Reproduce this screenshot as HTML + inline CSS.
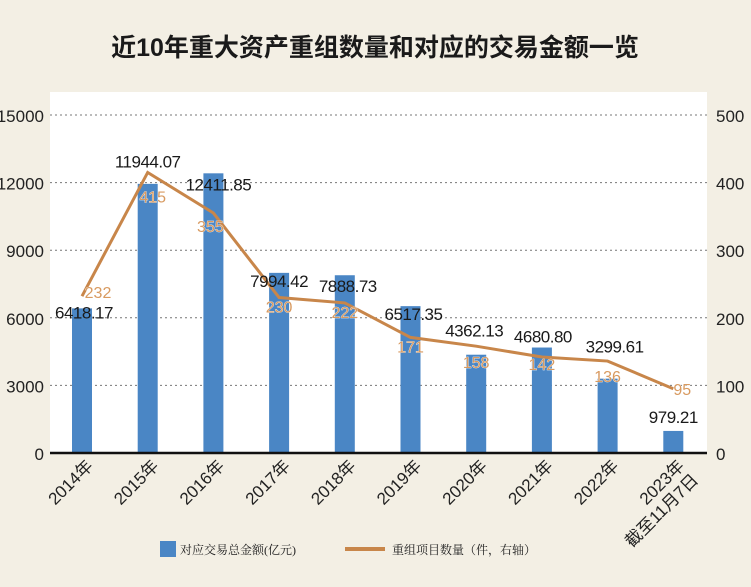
<!DOCTYPE html>
<html><head><meta charset="utf-8"><style>
body{margin:0;width:751px;height:587px;background:#f3efe4;overflow:hidden;font-family:"Liberation Sans","Noto Sans CJK SC",sans-serif}
svg{display:block}
</style></head><body>
<svg id="c" width="751" height="587">
<rect x="0" y="0" width="751" height="587" fill="#f3efe4"/>
<rect x="50" y="92" width="657" height="361" fill="#ffffff"/>
<text x="375" y="56" text-anchor="middle" font-size="25" font-weight="bold" fill="#1a1a1a" font-family="'Liberation Sans','Noto Sans CJK SC',sans-serif">近10年重大资产重组数量和对应的交易金额一览</text>
<g id="grid"></g><g id="bars"></g><g id="line"></g><g id="labels"></g><g id="axes"></g>
<g>
<rect x="160" y="541" width="16" height="16" fill="#4a86c5"/>
<text x="180" y="554" font-size="12" fill="#222" font-family="'Liberation Serif','Noto Serif CJK SC',serif">对应交易总金额(亿元)</text>
<line x1="345" y1="549" x2="385" y2="549" stroke="#c8864a" stroke-width="4"/>
<text x="392" y="554" font-size="12" fill="#222" font-family="'Liberation Serif','Noto Serif CJK SC',serif">重组项目数量（件，右轴）</text>
</g>
</svg>
<script>
const categories=["2014年","2015年","2016年","2017年","2018年","2019年","2020年","2021年","2022年","2023年"];
const amounts=[6418.17,11944.07,12411.85,7994.42,7888.73,6517.35,4362.13,4680.80,3299.61,979.21];
const amountLabels=["6418.17","11944.07","12411.85","7994.42","7888.73","6517.35","4362.13","4680.80","3299.61","979.21"];
const counts=[232,415,355,230,222,171,158,142,136,95];
const leftTicks=[0,3000,6000,9000,12000,15000];
const rightTicks=[0,100,200,300,400,500];
// label placement offsets (styling, px)
const amtDx=[2,0,5,0,3,3,-2,1,7,0];
const amtDy=[14,-1,21,18,21,18,-14,-1,-22,-4];
const cntDx=[16,5,-3,0,0,0,0,0,0,9];
const cntDy=[2,30,19,15,15,15,22,13,21,6];
const NS="http://www.w3.org/2000/svg";
const y0=453,yTop=115,x0=82,dx=65.7;
const yL=v=>y0-(v/15000)*(y0-yTop);
const yR=v=>y0-(v/500)*(y0-yTop);
const xC=i=>x0+i*dx;
function mk(tag,attrs,parent,txt){const e=document.createElementNS(NS,tag);for(const k in attrs)e.setAttribute(k,attrs[k]);if(txt!==undefined)e.textContent=txt;parent.appendChild(e);return e;}
const grid=document.getElementById('grid'),bars=document.getElementById('bars'),line=document.getElementById('line'),labels=document.getElementById('labels'),axes=document.getElementById('axes');
leftTicks.forEach((t,i)=>{
 const y=yL(t);
 if(t>0){const g=mk('line',{x1:50,x2:707,y1:y,y2:y,stroke:'#777','stroke-width':1,'stroke-dasharray':'2,3'},grid);
 
 }
 const l=mk('text',{x:44,y:y+7,'text-anchor':'end','font-size':17,fill:'#222'},axes,String(t));
 
 
});
rightTicks.forEach(t=>{
 const r=mk('text',{x:716,y:yR(t)+7,'font-size':17,fill:'#222'},axes,String(t));
 
 
});
const ax=mk('line',{x1:50,x2:707,y1:y0,y2:y0,stroke:'#111','stroke-width':2.5},axes);


amounts.forEach((v,i)=>{
 const b=mk('rect',{x:xC(i)-10,y:yL(v),width:20,height:y0-yL(v),fill:'#4a86c5'},bars);
 
 
});
const pts=counts.map((c,i)=>xC(i)+','+yR(c)).join(' ');
const pl=mk('polyline',{points:pts,fill:'none',stroke:'#c8864a','stroke-width':3},line);


amounts.forEach((v,i)=>{
 const ly=(i===1?yR(counts[i]):yL(v))-4+amtDy[i];
 const t=mk('text',{x:xC(i)+amtDx[i],y:ly,'text-anchor':'middle','font-size':17,fill:'#1a1a1a','letter-spacing':'-0.5'},labels,amountLabels[i]);
 
 
 const c=mk('text',{x:xC(i)+cntDx[i],y:yR(counts[i])+cntDy[i],'text-anchor':'middle','font-size':16,fill:'#d89a60',stroke:'#fff','stroke-width':0.6,'paint-order':'stroke'},labels,String(counts[i]));
 
 
 const cx=xC(i)+12,cy=y0+14;
 const g=mk('text',{x:cx,y:cy,'text-anchor':'end','font-size':17,fill:'#222',transform:`rotate(-45 ${cx} ${cy})`},axes,categories[i]);
 
 
 if(i===9){const s=mk('text',{x:cx+14,y:cy+14,'text-anchor':'end','font-size':17,fill:'#222',transform:`rotate(-45 ${cx+14} ${cy+14})`},axes,'截至11月7日');
 
 }
});
</script>
</body></html>
